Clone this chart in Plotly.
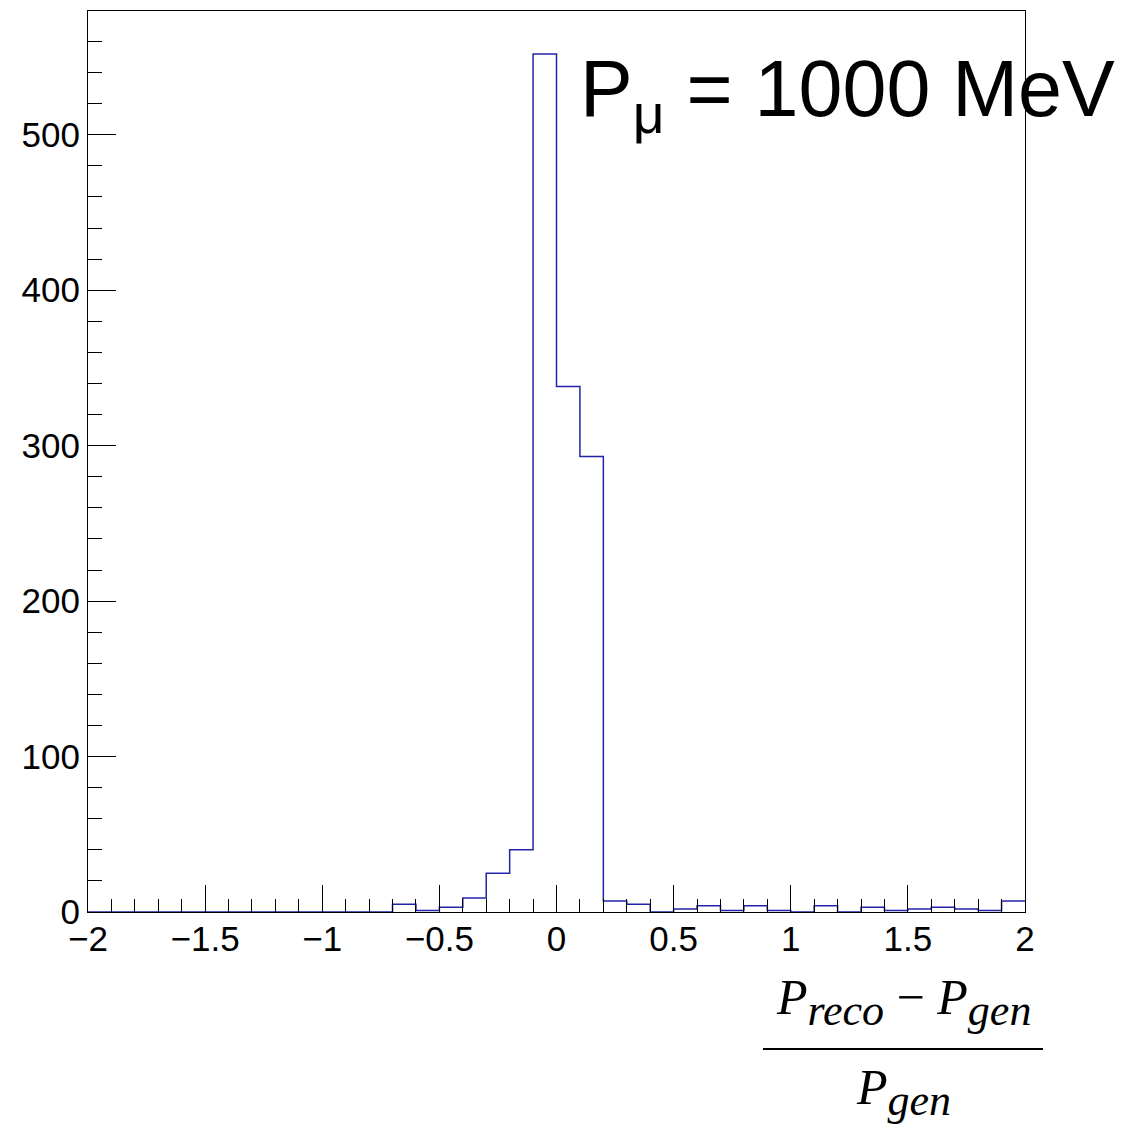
import plotly.graph_objects as go

# Histogram binning (ROOT-style TH1 from -2 to 2, 40 bins)
BIN_LOW = -2.0
BIN_WIDTH = 0.1
counts = [0, 0, 0, 0, 0, 0, 0, 0, 0, 0,
          0, 0, 0, 5, 1, 3, 9, 25, 40, 552,
          338, 293, 7, 5, 0, 2, 4, 1, 4, 1,
          0, 4, 0, 3, 1, 2, 3, 2, 1, 7]
x_tick_vals = [-2, -1.5, -1, -0.5, 0, 0.5, 1, 1.5, 2]
x_tick_text = ["\u22122", "\u22121.5", "\u22121", "\u22120.5", "0", "0.5", "1", "1.5", "2"]
y_tick_vals = [0, 100, 200, 300, 400, 500]
label_text = "P<sub>\u03bc</sub> = 1000 MeV"
SUB = '<sub><span style="font-size:44px"><i>{}</i></span></sub>'
numerator = "<i>P</i>" + SUB.format("reco") + " \u2212 <i>P</i>" + SUB.format("gen")
denominator = "<i>P</i>" + SUB.format("gen")

edges = [round(BIN_LOW + BIN_WIDTH * i, 6) for i in range(len(counts) + 1)]
xs = edges
ys = counts + [counts[-1]]

W, H = 1137, 1127
L, R, T, B = 88, 1137 - 1025, 11, 1127 - 912
pw, ph = W - L - R, H - T - B

def px_x(p):
    return (p - L) / pw

def px_y(p):
    return (H - B - p) / ph

fig = go.Figure()
fig.add_trace(go.Scatter(x=xs, y=ys, mode="lines", line_shape="hv",
                         line=dict(color="rgb(35,35,170)", width=1.5),
                         showlegend=False, hoverinfo="skip"))

tickfont = dict(family="Liberation Sans, Arial, sans-serif", size=35, color="black")
fig.update_layout(
    width=W, height=H,
    margin=dict(l=L, r=R, t=T, b=B),
    paper_bgcolor="white", plot_bgcolor="white",
    xaxis=dict(range=[-2, 2], tickvals=x_tick_vals, ticktext=x_tick_text,
               ticks="inside", ticklen=27, tickwidth=1, tickcolor="black",
               ticklabelstandoff=-4,
               minor=dict(dtick=0.1, tick0=-2, ticks="inside", ticklen=13, tickwidth=1, tickcolor="black", showgrid=False),
               showline=True, linecolor="black", linewidth=1, mirror=True,
               showgrid=False, zeroline=False, tickfont=tickfont),
    yaxis=dict(range=[0, 579.6], tickvals=y_tick_vals,
               ticks="inside", ticklen=28, tickwidth=1, tickcolor="black",
               minor=dict(dtick=20, tick0=0, ticks="inside", ticklen=14, tickwidth=1, tickcolor="black", showgrid=False),
               showline=True, linecolor="black", linewidth=1, mirror=True,
               showgrid=False, zeroline=False, tickfont=tickfont),
)

fig.add_annotation(text=label_text, xref="paper", yref="paper",
                   x=px_x(578), y=px_y(95), xanchor="left", yanchor="middle",
                   showarrow=False,
                   font=dict(family="Liberation Sans, Arial, sans-serif", size=79, color="black"))

serif = dict(family="Liberation Serif, Times New Roman, serif", size=50, color="black")
fig.add_annotation(text=numerator, xref="paper", yref="paper",
                   x=px_x(903), y=px_y(1002), xanchor="center", yanchor="middle",
                   showarrow=False, font=serif)
fig.add_annotation(text=denominator, xref="paper", yref="paper",
                   x=px_x(903), y=px_y(1092), xanchor="center", yanchor="middle",
                   showarrow=False, font=serif)
fig.add_shape(type="line", xref="paper", yref="paper",
              x0=px_x(763), x1=px_x(1043), y0=px_y(1049), y1=px_y(1049),
              line=dict(color="black", width=2))

fig.write_html("out.html")
